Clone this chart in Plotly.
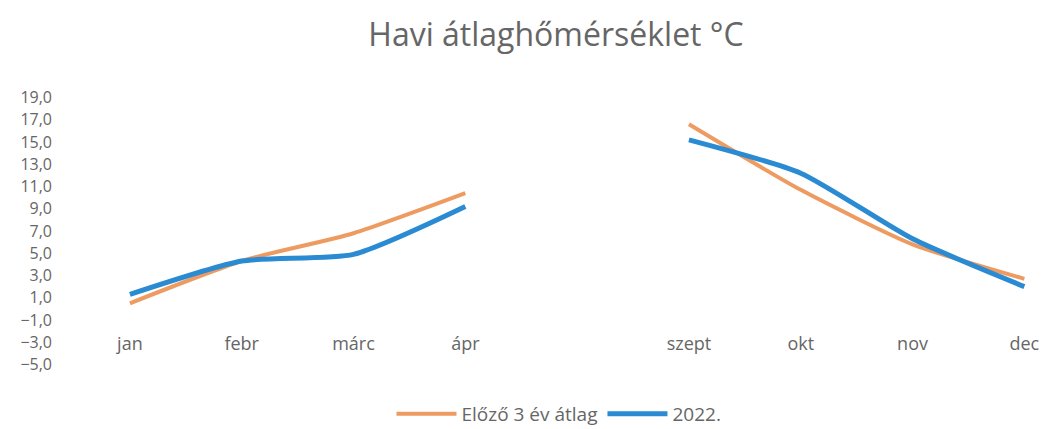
import plotly.graph_objects as go

categories = ["jan", "febr", "márc", "ápr", " ", "szept", "okt", "nov", "dec"]
prev3 = [0.5, 4.3, 6.8, 10.4, None, 16.6, 10.7, 5.8, 2.7]
y2022 = [1.3, 4.3, 4.9, 9.2, None, 15.2, 12.2, 6.3, 2.0]
ytick_vals = list(range(-5, 20, 2))

# page body has an 8px margin; compensate
OFF = 8
W, H = 1047 - OFF, 429 - OFF
fig = go.Figure()
fig.add_trace(go.Scatter(x=categories, y=prev3, name="Előző 3 év átlag", mode="lines",
                         line=dict(color="#EE9B62", width=4, shape="spline", smoothing=0.6),
                         connectgaps=False))
fig.add_trace(go.Scatter(x=categories, y=y2022, name="2022.", mode="lines",
                         line=dict(color="#2A8BD2", width=5, shape="spline", smoothing=0.6),
                         connectgaps=False))

ymin, ymax = -5.5, 19.5
left_px, right_px = 74 - OFF, 1040 - OFF
top_px, bot_px = 91.5 - OFF, 370 - OFF
xlab_val = -1.95
pos = (xlab_val - ymin) / (ymax - ymin)

fig.update_layout(
    width=W, height=H,
    margin=dict(l=left_px, r=W - right_px, t=top_px, b=H - bot_px, autoexpand=False),
    paper_bgcolor="white", plot_bgcolor="white",
    separators=", ",
    font=dict(family="'Open Sans', sans-serif", color="#666666", size=18),
    title=dict(text="Havi átlaghőmérséklet °C", x=(556 - OFF) / W, xref="container",
               xanchor="center", y=1 - (35 - OFF) / H, yanchor="middle",
               font=dict(size=32, color="#666666")),
    xaxis=dict(type="category", range=[-0.5, 8.14], showgrid=False, showline=False,
               zeroline=False, ticks="", anchor="free", position=pos, tickfont=dict(size=18),
               automargin=False),
    yaxis=dict(range=[ymin, ymax], tickvals=ytick_vals, tickformat=".1f", showgrid=False,
               zeroline=False, showline=False, ticks="", ticklabelstandoff=21,
               tickfont=dict(size=16), automargin=False),
    legend=dict(orientation="h", xref="container", x=(559 - OFF) / W,
                xanchor="center", yref="container", y=1 - (414 - OFF) / H,
                yanchor="middle", font=dict(size=19), itemwidth=60),
    showlegend=True,
)
fig.write_html("out.html")
